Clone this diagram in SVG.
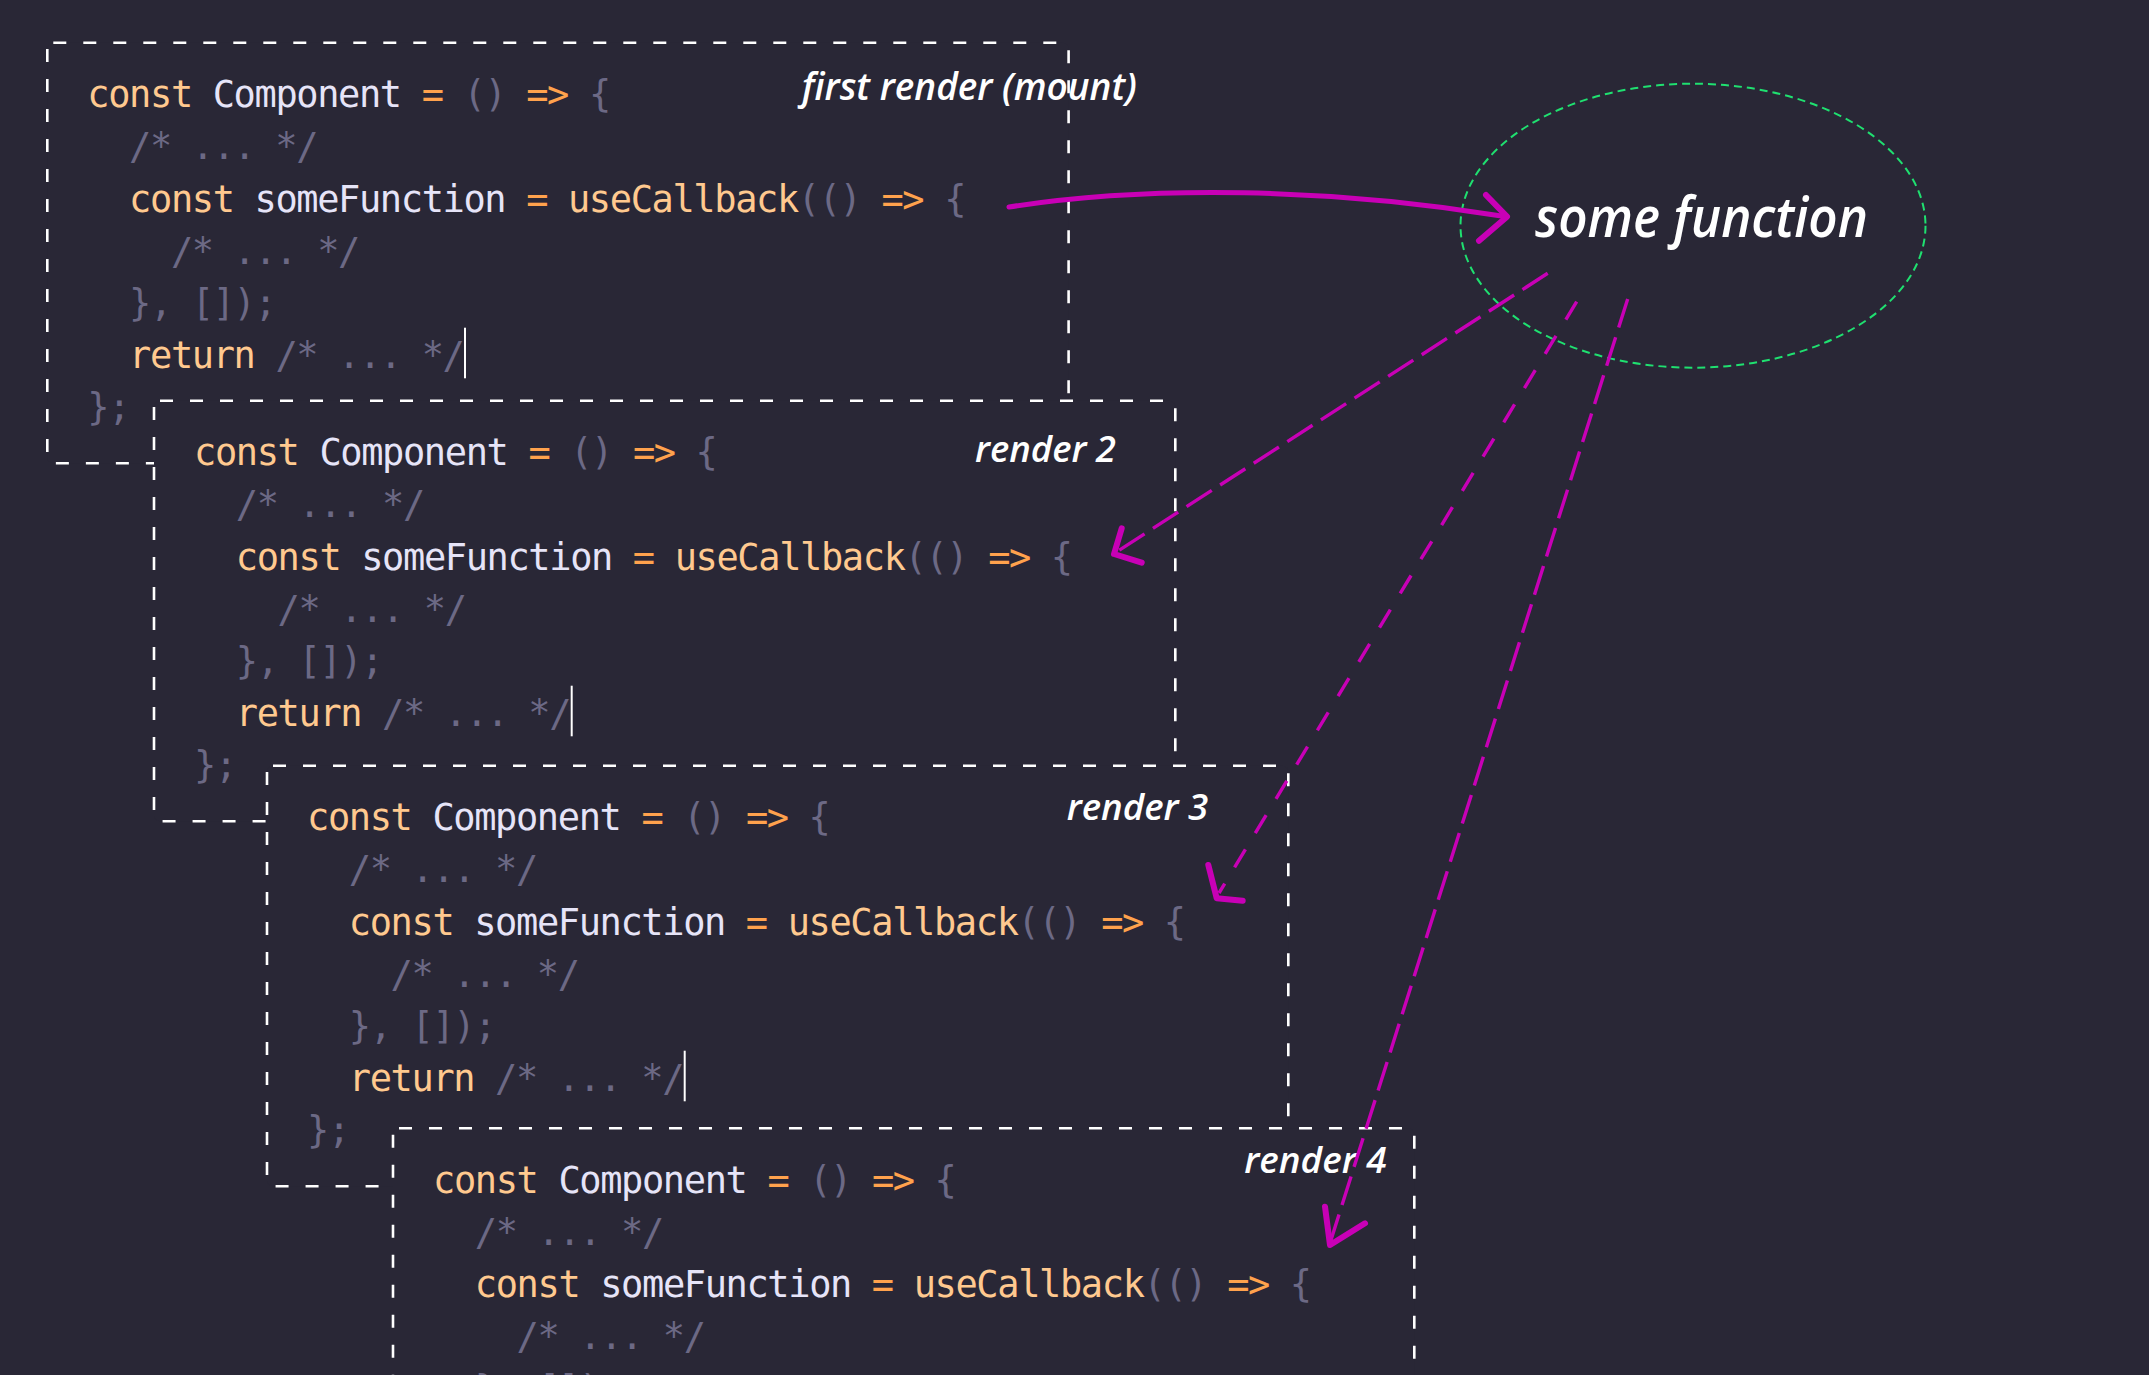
<svg xmlns="http://www.w3.org/2000/svg" width="2149" height="1375" viewBox="0 0 2149 1375">
<style>
.bg{fill:#292736}
.box{fill:#292736;stroke:#ffffff;stroke-width:2.6;stroke-dasharray:13 17}
.code{font-family:"DejaVu Sans Mono","Liberation Mono",monospace;font-size:37px;letter-spacing:-1.38px;fill:#6c6985}
.k{fill:#ffc98f}
.o{fill:#ffa24d}
.i{fill:#e6e4f8}
.p{fill:#6c6985}
.cur{stroke:#ffffff;stroke-width:2}
.lbl{font-family:"Open Sans","Noto Sans",sans-serif;font-style:italic;font-weight:600;fill:#ffffff}
.ell{fill:none;stroke:#1fe070;stroke-width:2;stroke-dasharray:8 5}
.arr{fill:none;stroke:#c800b6;stroke-width:5;stroke-linecap:round}
.dash{fill:none;stroke:#c800b6;stroke-width:3.4;stroke-dasharray:30 10}
.dash2{stroke-dasharray:21 19}
.head{fill:none;stroke:#c800b6;stroke-width:6;stroke-linecap:round;stroke-linejoin:round}
</style>
<rect class="bg" x="0" y="0" width="2149" height="1375"/>

<g id="render1" transform="translate(47.3,42.7)">
<rect class="box" x="0" y="0" width="1021.3" height="420.6" rx="6"/>
<text class="code" x="40" y="64.6"><tspan class="k">const</tspan> <tspan class="i">Component</tspan> <tspan class="o">=</tspan> <tspan class="p">()</tspan> <tspan class="o">=&gt;</tspan> <tspan class="p">{</tspan></text>
<text class="code" x="81.8" y="116.8">/* ... */</text>
<text class="code" x="81.8" y="169"><tspan class="k">const</tspan> <tspan class="i">someFunction</tspan> <tspan class="o">=</tspan> <tspan class="k">useCallback</tspan><tspan class="p">(()</tspan> <tspan class="o">=&gt;</tspan> <tspan class="p">{</tspan></text>
<text class="code" x="123.6" y="221.2">/* ... */</text>
<text class="code" x="81.8" y="273.4">}, []);</text>
<text class="code" x="81.8" y="325.6"><tspan class="k">return</tspan> <tspan class="p">/* ... */</tspan></text>
<text class="code" x="40" y="377.8">};</text>
<line class="cur" x1="417.7" y1="285" x2="417.7" y2="335.6"/>
</g>
<text id="label1" class="lbl" x="801.7" y="100" font-size="38" textLength="335" lengthAdjust="spacingAndGlyphs">first render (mount)</text>

<g id="render2" transform="translate(154,400.7)">
<rect class="box" x="0" y="0" width="1021.3" height="420.6" rx="6"/>
<text class="code" x="40" y="64.6"><tspan class="k">const</tspan> <tspan class="i">Component</tspan> <tspan class="o">=</tspan> <tspan class="p">()</tspan> <tspan class="o">=&gt;</tspan> <tspan class="p">{</tspan></text>
<text class="code" x="81.8" y="116.8">/* ... */</text>
<text class="code" x="81.8" y="169"><tspan class="k">const</tspan> <tspan class="i">someFunction</tspan> <tspan class="o">=</tspan> <tspan class="k">useCallback</tspan><tspan class="p">(()</tspan> <tspan class="o">=&gt;</tspan> <tspan class="p">{</tspan></text>
<text class="code" x="123.6" y="221.2">/* ... */</text>
<text class="code" x="81.8" y="273.4">}, []);</text>
<text class="code" x="81.8" y="325.6"><tspan class="k">return</tspan> <tspan class="p">/* ... */</tspan></text>
<text class="code" x="40" y="377.8">};</text>
<line class="cur" x1="417.7" y1="285" x2="417.7" y2="335.6"/>
<text class="lbl" x="821" y="61" font-size="36" textLength="141" lengthAdjust="spacingAndGlyphs">render 2</text>
</g>

<g id="render3" transform="translate(267,765.7)">
<rect class="box" x="0" y="0" width="1021.3" height="420.6" rx="6"/>
<text class="code" x="40" y="64.6"><tspan class="k">const</tspan> <tspan class="i">Component</tspan> <tspan class="o">=</tspan> <tspan class="p">()</tspan> <tspan class="o">=&gt;</tspan> <tspan class="p">{</tspan></text>
<text class="code" x="81.8" y="116.8">/* ... */</text>
<text class="code" x="81.8" y="169"><tspan class="k">const</tspan> <tspan class="i">someFunction</tspan> <tspan class="o">=</tspan> <tspan class="k">useCallback</tspan><tspan class="p">(()</tspan> <tspan class="o">=&gt;</tspan> <tspan class="p">{</tspan></text>
<text class="code" x="123.6" y="221.2">/* ... */</text>
<text class="code" x="81.8" y="273.4">}, []);</text>
<text class="code" x="81.8" y="325.6"><tspan class="k">return</tspan> <tspan class="p">/* ... */</tspan></text>
<text class="code" x="40" y="377.8">};</text>
<line class="cur" x1="417.7" y1="285" x2="417.7" y2="335.6"/>
<text class="lbl" x="799.7" y="54.8" font-size="36" textLength="141.6" lengthAdjust="spacingAndGlyphs">render 3</text>
</g>

<g id="render4" transform="translate(393,1128.3)">
<rect class="box" x="0" y="0" width="1021.3" height="420.6" rx="6"/>
<text class="code" x="40" y="64.6"><tspan class="k">const</tspan> <tspan class="i">Component</tspan> <tspan class="o">=</tspan> <tspan class="p">()</tspan> <tspan class="o">=&gt;</tspan> <tspan class="p">{</tspan></text>
<text class="code" x="81.8" y="116.8">/* ... */</text>
<text class="code" x="81.8" y="169"><tspan class="k">const</tspan> <tspan class="i">someFunction</tspan> <tspan class="o">=</tspan> <tspan class="k">useCallback</tspan><tspan class="p">(()</tspan> <tspan class="o">=&gt;</tspan> <tspan class="p">{</tspan></text>
<text class="code" x="123.6" y="221.2">/* ... */</text>
<text class="code" x="81.8" y="273.4">}, []);</text>
<text class="code" x="81.8" y="325.6"><tspan class="k">return</tspan> <tspan class="p">/* ... */</tspan></text>
<text class="code" x="40" y="377.8">};</text>
<line class="cur" x1="417.7" y1="285" x2="417.7" y2="335.6"/>
<text class="lbl" x="851.3" y="45" font-size="36" textLength="142.4" lengthAdjust="spacingAndGlyphs">render 4</text>
</g>

<g id="someFunction">
<ellipse class="ell" cx="1693" cy="225.7" rx="232.5" ry="142"/>
<text class="lbl" x="1535" y="236.7" font-size="56" textLength="333" lengthAdjust="spacingAndGlyphs">some function</text>
</g>

<g id="connectors">
<path class="arr" d="M1009,207 C1150,185 1330,188 1505,216.5"/>
<path class="head" d="M1486,195 L1507,216.7 L1479,240.7"/>
<path class="dash" d="M1547.7,273.3 L1118,551"/>
<path class="head" d="M1121.7,528.3 L1114,554 L1141.7,562.7"/>
<path class="dash dash2" d="M1576.7,301.7 L1219,893"/>
<path class="head" d="M1208.3,865 L1216.7,898.3 L1242.7,900.7"/>
<path class="dash" d="M1627.7,299 L1331,1240"/>
<path class="head" d="M1325,1206.7 L1330,1245 L1365,1223.3"/>
</g>
</svg>
